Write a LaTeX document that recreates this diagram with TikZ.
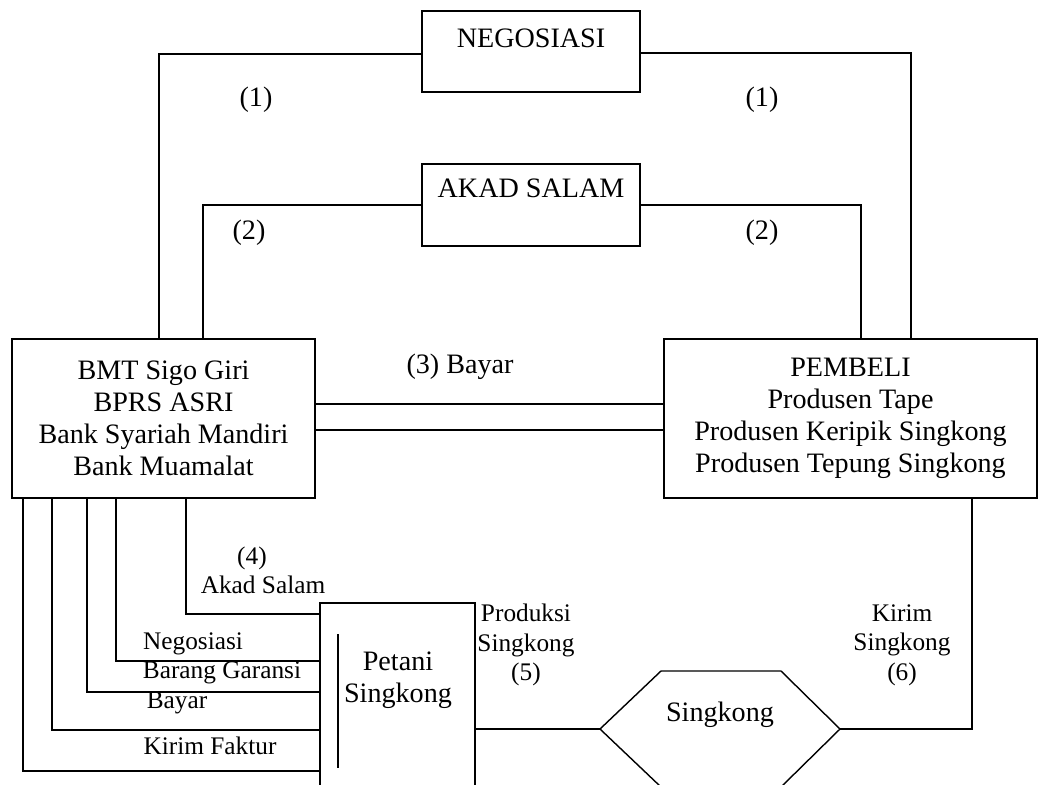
\documentclass[tikz,border=0pt]{standalone}
\usepackage{fontspec}
\setmainfont{Liberation Serif}
\usetikzlibrary{positioning}

\begin{document}
\begin{tikzpicture}[
		x=0.025cm, y=-0.025cm,
		line width=1pt,
		every node/.style={font=\fontsize{20}{22.7}\selectfont},
		box/.style={rectangle, draw=black, inner sep=0pt},
		small/.style={font=\fontsize{18}{21}\selectfont, align=center}
	]
	\useasboundingbox (0,0) rectangle (1039,784);
	\clip (0,0) rectangle (1039,784);

	% Top boxes
	\node[box, minimum width=5.45cm, minimum height=2.025cm] (nego) at (531,51.5) {};
	\node (negotext) at (531,38) {NEGOSIASI};
	\node[box, minimum width=5.45cm, minimum height=2.05cm] (akad) at (531,205) {};
	\node (akadtext) at (531,188) {AKAD SALAM};

	% Parties
	\node[box, align=center, minimum width=7.575cm, minimum height=3.975cm] (bmt) at (163.5,418.5)
	{BMT Sigo Giri\\BPRS ASRI\\Bank Syariah Mandiri\\Bank Muamalat};
	\node[box, align=center, minimum width=9.325cm, minimum height=3.975cm] (pembeli) at (850.5,418.5)
	{PEMBELI\\Produsen Tape\\Produsen Keripik Singkong\\Produsen Tepung Singkong};

	% Petani
	\node[box, minimum width=3.875cm, minimum height=4.925cm] (petani) at (397.5,701.5) {};
	\node[align=center] (petanitext) at (398,680) {Petani\\Singkong};
	\draw (338,634) -- (338,768);

	% Singkong hexagon
	\draw (600,729) -- (661,671) -- (781,671) -- (840,729) -- (781,787) -- (661,787) -- cycle;
	\coordinate (hexL) at (600,729);
	\coordinate (hexR) at (840,729);
	\node (hex) at (720,715) {Singkong};

	% Connectors
	\draw (nego.west |- 0,54) -| (bmt.north -| 159,0);
	\draw (nego.east |- 0,53) -| (pembeli.north -| 911,0);
	\draw (akad.west) -| (bmt.north -| 203,0);
	\draw (akad.east) -| (pembeli.north -| 861,0);
	\foreach \y in {404,430}
	\draw (bmt.east |- 0,\y) -- (pembeli.west |- 0,\y);
	\foreach \x/\y in {186/614,116/661,87/692,52/730,23/771}
	\draw (bmt.south -| \x,0) |- (petani.west |- 0,\y);
	\draw (petani.east |- hexL) -- (hexL);
	\draw (hexR) -| (pembeli.south -| 972,0);

	% Labels
	\node (n1l) at (256,100) {(1)};
	\node (n1r) at (762,100) {(1)};
	\node (n2l) at (249,233) {(2)};
	\node (n2r) at (762,233) {(2)};
	\node (bayar3) at (460,367) {(3) Bayar};
	\node[small] (n4) at (252,558) {(4)};
	\node[small] (akad4) at (263,585) {Akad Salam};
	\node[small] (lnego) at (193,644) {Negosiasi};
	\node[small] (lgaransi) at (222,673) {Barang Garansi};
	\node[small] (lbayar) at (177,703) {Bayar};
	\node[small] (lfaktur) at (210,746) {Kirim Faktur};
	\node[small] (lprod) at (526,645) {Produksi\\Singkong\\(5)};
	\node[small] (lkirim) at (902,645) {Kirim\\Singkong\\(6)};

\end{tikzpicture}
\end{document}
